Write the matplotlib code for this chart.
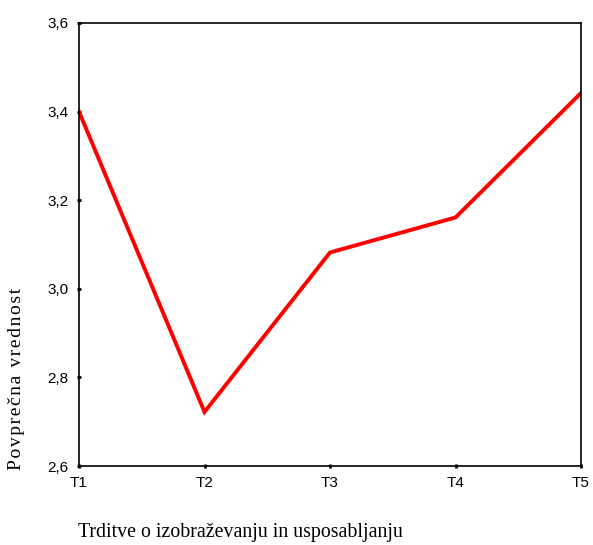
import matplotlib
matplotlib.use("Agg")
import matplotlib.pyplot as plt

categories = ["T1", "T2", "T3", "T4", "T5"]
values = [3.40, 2.722, 3.082, 3.161, 3.442]
yticks = [2.6, 2.8, 3.0, 3.2, 3.4, 3.6]
ytick_labels = ["2,6", "2,8", "3,0", "3,2", "3,4", "3,6"]

fig = plt.figure(figsize=(5.93, 5.45), dpi=100)
ax = fig.add_axes([79/593, 1-466/545, (581-79)/593, (466-23)/545])

x = list(range(len(categories)))
ax.plot(x, values, color="#FF0000", linewidth=2.8, solid_joinstyle="miter")

ax.set_xlim(0, len(categories)-1)
ax.set_ylim(2.6, 3.6)
ax.set_xticks(x)
ax.set_xticklabels(categories, family="Liberation Sans", fontsize=11)
ax.set_yticks(yticks)
ax.set_yticklabels(ytick_labels, family="Liberation Sans", fontsize=11)
ax.tick_params(axis="y", direction="inout", length=3, width=2, pad=6)
ax.tick_params(axis="x", direction="inout", length=3, width=2, pad=6)
for s in ax.spines.values():
    s.set_linewidth(1.2)

hs = "\u200a"
ylab = hs.join("Povprečna vrednost")
fig.text(17/593, 1-379/545, ylab,
         rotation=90, ha="center", va="center", family=["Liberation Serif", "DejaVu Serif"], fontsize=14)
fig.text(78/593, 1-533/545, "Trditve o izobraževanju in usposabljanju",
         ha="left", va="center", family="Liberation Serif", fontsize=14.3)

fig.savefig("out.png", dpi=100)
